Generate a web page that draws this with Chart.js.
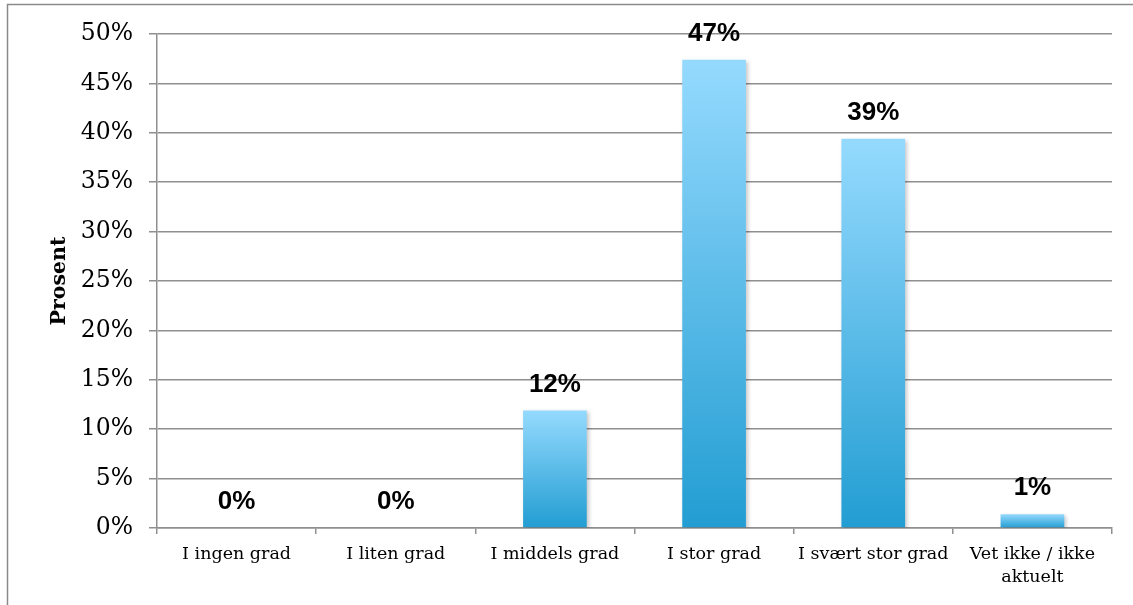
<!DOCTYPE html>
<html>
<head>
<meta charset="utf-8">
<script src="https://cdn.jsdelivr.net/npm/chart.js@4"></script>
<style>
  body { margin: 0; background: #fff; }
  #wrap { width: 1133px; height: 605px; position: relative; }
</style>
</head>
<body>
<div id="wrap"><canvas id="chart-bars"></canvas></div>
<script>
// data
const categories = ["I ingen grad", "I liten grad", "I middels grad", "I stor grad", "I svært stor grad", ["Vet ikke / ikke", "aktuelt"]];
const values = [0, 0, 11.9, 47.4, 39.4, 1.4];
const yTicks = [0, 5, 10, 15, 20, 25, 30, 35, 40, 45, 50];

const gridColor = "#8f8f8f";

// gradient per bar, light on top, darker at the bottom
function barFill(context) {
  const chart = context.chart;
  if (!chart.chartArea || !chart.scales.y) return "#5bbbe8";
  const v = context.raw;
  const top = chart.scales.y.getPixelForValue(v);
  const bottom = chart.scales.y.getPixelForValue(0);
  if (bottom - top < 1) return "#5bbbe8";
  const g = chart.ctx.createLinearGradient(0, top, 0, bottom);
  g.addColorStop(0, "#95dafe");
  g.addColorStop(1, "#229dd2");
  return g;
}

// grey frame round the whole chart
const framePlugin = {
  id: "frame",
  beforeDraw(chart) {
    const c = chart.ctx;
    c.save();
    c.strokeStyle = "#8a8a8a";
    c.lineWidth = 1.5;
    c.strokeRect(7.5, 4.5, chart.width + 20, chart.height + 20);
    c.restore();
  }
};

// light shadow under the bars
const shadowPlugin = {
  id: "barShadow",
  beforeDatasetsDraw(chart) {
    const c = chart.ctx;
    c.save();
    c.shadowColor = "rgba(0,0,0,0.22)";
    c.shadowBlur = 4;
    c.shadowOffsetX = 2;
    c.shadowOffsetY = 2;
  },
  afterDatasetsDraw(chart) {
    chart.ctx.restore();
  }
};

// value labels above the bars
const valueLabels = {
  id: "valueLabels",
  afterDatasetsDraw(chart) {
    const c = chart.ctx;
    const meta = chart.getDatasetMeta(0);
    c.save();
    c.font = "bold 26px 'Liberation Sans', Arial, sans-serif";
    c.fillStyle = "#000";
    c.textAlign = "center";
    c.textBaseline = "middle";
    meta.data.forEach(function (bar, i) {
      c.fillText(Math.round(values[i]) + "%", bar.x, bar.y - 26);
    });
    c.restore();
  }
};

const ctx = document.getElementById("chart-bars").getContext("2d");
let myChart = new Chart(ctx, {
  type: "bar",
  data: {
    labels: categories,
    datasets: [
      {
        label: "Prosent",
        data: values,
        backgroundColor: barFill,
        borderWidth: 0,
        categoryPercentage: 1,
        barPercentage: 0.4,
      }
    ],
  },
  options: {
    responsive: true,
    maintainAspectRatio: false,
    animation: false,
    layout: { padding: { left: 47, right: 21, top: 34, bottom: 0 } },
    plugins: {
      legend: { display: false },
      tooltip: { enabled: false },
    },
    scales: {
      x: {
        afterFit(scale) { scale.height = 77; },
        grid: {
          display: true,
          drawOnChartArea: false,
          drawTicks: true,
          tickLength: 6,
          color: gridColor,
          lineWidth: 1.5,
        },
        border: { display: true, color: gridColor, width: 1.5 },
        ticks: {
          color: "#000",
          padding: 9,
          maxRotation: 0,
          font: { family: "'DejaVu Serif', serif", size: 17.5, lineHeight: 1.3 },
        },
      },
      y: {
        min: 0,
        max: 50,
        afterFit(scale) { scale.width = 110; },
        afterBuildTicks(scale) { scale.ticks = yTicks.map(v => ({ value: v })); },
        grid: {
          color: gridColor,
          lineWidth: 1.5,
          tickLength: 8,
        },
        border: { display: true, color: gridColor, width: 1.5 },
        ticks: {
          color: "#000",
          padding: 16,
          font: { family: "'DejaVu Serif', serif", size: 23.5 },
          callback: v => v + "%",
        },
        title: {
          display: true,
          text: "Prosent",
          color: "#000",
          padding: { top: 0, bottom: 0 },
          font: { family: "'DejaVu Serif', serif", size: 20.5, weight: "bold" },
        },
      },
    },
  },
  plugins: [framePlugin, shadowPlugin, valueLabels],
});
</script>
</body>
</html>
